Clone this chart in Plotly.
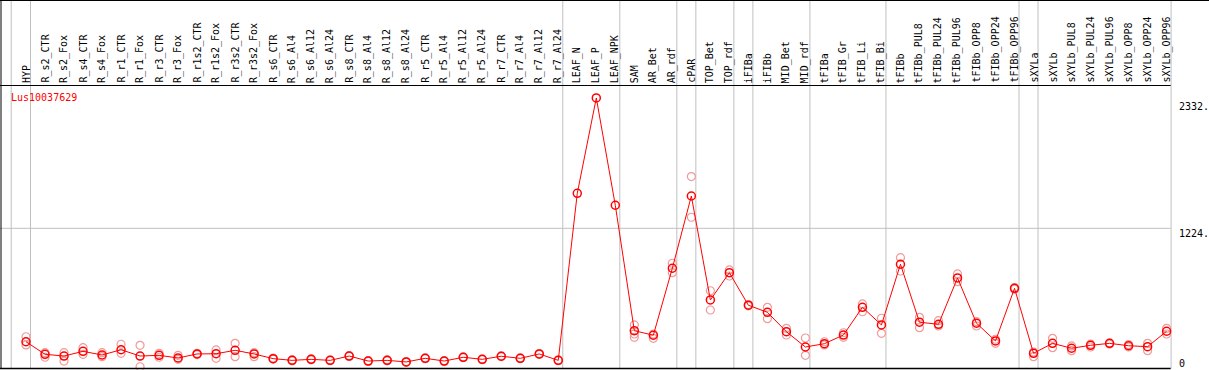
import plotly.graph_objects as go

categories = ["HYP", "R_s2_CTR", "R_s2_Fox", "R_s4_CTR", "R_s4_Fox", "R_r1_CTR", "R_r1_Fox",
              "R_r3_CTR", "R_r3_Fox", "R_r1s2_CTR", "R_r1s2_Fox", "R_r3s2_CTR", "R_r3s2_Fox",
              "R_s6_CTR", "R_s6_Al4", "R_s6_Al12", "R_s6_Al24", "R_s8_CTR", "R_s8_Al4",
              "R_s8_Al12", "R_s8_Al24", "R_r5_CTR", "R_r5_Al4", "R_r5_Al12", "R_r5_Al24",
              "R_r7_CTR", "R_r7_Al4", "R_r7_Al12", "R_r7_Al24", "LEAF_N", "LEAF_P", "LEAF_NPK",
              "SAM", "AR_Bet", "AR_rdf", "cPAR", "TOP_Bet", "TOP_rdf", "iFIBa", "iFIBb",
              "MID_Bet", "MID_rdf", "tFIBa", "tFIB_Gr", "tFIB_Li", "tFIB_Bi", "tFIBb",
              "tFIBb_PUL8", "tFIBb_PUL24", "tFIBb_PUL96", "tFIBb_OPP8", "tFIBb_OPP24",
              "tFIBb_OPP96", "sXYLa", "sXYLb", "sXYLb_PUL8", "sXYLb_PUL24", "sXYLb_PUL96",
              "sXYLb_OPP8", "sXYLb_OPP24", "sXYLb_OPP96"]

mean_values = [230, 120, 105, 146, 114, 160, 105, 111, 88, 123, 125, 155, 123,
               82, 67, 76, 67, 105, 61, 67, 53, 85, 61, 94, 76, 103, 85, 123, 67,
               1531, 2366, 1426, 327, 287, 874, 1507, 596, 835, 550, 488, 318, 184,
               213, 289, 532, 377, 909, 401, 383, 789, 392, 237, 698, 129, 216, 173,
               199, 216, 195, 187, 322]

rep_a = [274, 134, 134, 178, 134, 208, 199, 129, 111, 128, 158, 216, 134,
         86, 71, 80, 70, 109, 64, 71, 56, 88, 64, 97, 79, 106, 88, 127, 70,
         None, None, None, 377, 298, 918, 1677, 677, 859, 556, 532, 348, 263,
         230, 309, 561, 436, 967, 444, 415, 824, 406, 252, 705, 140, 260, 193,
         210, 219, 206, 216, 348]
rep_b = [202, 94, 61, 120, 99, 129, 11, 94, 76, 118, 85, 99, 99,
         78, 63, 72, 64, 101, 58, 63, 50, 82, 58, 91, 73, 100, 82, 119, 64,
         None, None, None, 298, 260, 835, 1321, 508, 806, 545, 432, 289, 111,
         202, 269, 493, 304, 850, 353, 368, 756, 368, 216, 690, 99, 178, 152,
         184, 210, 184, 152, 298]
rep_c = [None, None, None, None, None, None, None, None, None, None, None, None, None,
         None, None, None, None, None, None, None, None, None, None, None, None, None,
         None, None, None, None, None, None, 269, None, None, None, None, None, None,
         None, None, None, None, None, None, None, None, None, None, None, None, None,
         None, None, None, None, None, None, None, None, None]

group_ends = [0, 28, 31, 34, 35, 37, 38, 41, 45, 52, 53, 60]
y_ticks = [0, 1224, 2332]
y_tick_text = ["0", "1224.", "2332."]
gene = "Lus10037629"

W, H = 1209, 370
X0, DX = 26.0, 19.01          # pixel of first category, pixel step
Y0PIX, PXU = 368.0, 0.11413   # pixel of value 0, pixel per unit
xr = [(0 - X0) / DX, (W - X0) / DX]
yr = [(Y0PIX - H) / PXU, Y0PIX / PXU]

def px2x(p):
    return (p - X0) / DX

def py2paper(p):
    return 1 - p / H

xs = list(range(len(categories)))
FONT = "DejaVu Sans Mono"
GRAY = "#c0c0c0"

fig = go.Figure()
for reps in (rep_a, rep_b, rep_c):
    fig.add_trace(go.Scatter(x=xs, y=reps, mode="markers", showlegend=False, hoverinfo="skip",
                             marker=dict(symbol="circle-open", size=8, color="#f09a9a",
                                         line=dict(width=1.2, color="#f09a9a"))))
fig.add_trace(go.Scatter(x=xs, y=mean_values, mode="lines+markers", showlegend=False,
                         line=dict(color="#ff0000", width=1),
                         marker=dict(symbol="circle-open", size=8, color="#ff0000",
                                     line=dict(width=1.5, color="#ff0000"))))

shapes = []
right_x = px2x(1170.7)
sep_off = 4.5 / DX
seps = [px2x(11.2)] + [g + sep_off for g in group_ends]
for s in seps:
    shapes.append(dict(type="line", xref="x", yref="paper", x0=s, x1=s,
                       y0=py2paper(368.5), y1=1, line=dict(color=GRAY, width=1), layer="below"))
shapes.append(dict(type="line", xref="x", yref="y", x0=xr[0], x1=right_x, y0=1224, y1=1224,
                   line=dict(color=GRAY, width=1), layer="below"))
shapes.append(dict(type="line", xref="paper", yref="paper", x0=0, x1=1,
                   y0=py2paper(0.5), y1=py2paper(0.5), line=dict(color="black", width=1)))
shapes.append(dict(type="line", xref="x", yref="paper", x0=xr[0], x1=right_x,
                   y0=py2paper(85.5), y1=py2paper(85.5), line=dict(color="black", width=1)))
shapes.append(dict(type="line", xref="x", yref="paper", x0=xr[0], x1=right_x,
                   y0=py2paper(368.5), y1=py2paper(368.5), line=dict(color="black", width=1.5)))
shapes.append(dict(type="line", xref="paper", yref="paper", x0=1.0 / W, x1=1.0 / W,
                   y0=py2paper(368.5), y1=1, line=dict(color="black", width=1)))

annotations = []
for i, c in enumerate(categories):
    annotations.append(dict(x=i, y=py2paper(85), xref="x", yref="paper", text=c,
                            textangle=-90, showarrow=False, xanchor="center", yanchor="bottom",
                            font=dict(family=FONT, size=10, color="black")))
for v, t in zip(y_ticks, y_tick_text):
    annotations.append(dict(x=1177.0 / W, y=max(v, 85), xref="paper", yref="y", text=t,
                            showarrow=False, xanchor="left", yanchor="top", yshift=2.5,
                            font=dict(family=FONT, size=10, color="black")))
annotations.append(dict(x=9.0 / W, y=py2paper(97), xref="paper", yref="paper", text=gene,
                        showarrow=False, xanchor="left", yanchor="middle",
                        font=dict(family=FONT, size=10, color="#ff0000")))

fig.update_layout(width=W, height=H, margin=dict(l=0, r=0, t=0, b=0),
                  paper_bgcolor="white", plot_bgcolor="white",
                  xaxis=dict(range=xr, visible=False, showgrid=False, zeroline=False),
                  yaxis=dict(range=yr, visible=False, showgrid=False, zeroline=False),
                  shapes=shapes, annotations=annotations, showlegend=False)

fig.write_html("out.html", config={"displayModeBar": False},
               post_script="document.body.style.margin='0';document.body.style.overflow='hidden';")
